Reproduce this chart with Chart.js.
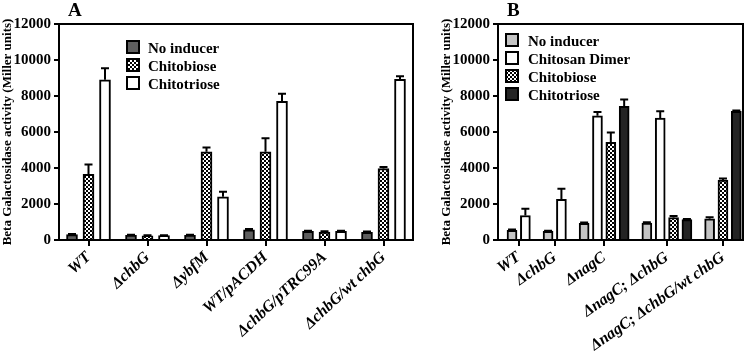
<!DOCTYPE html>
<html><head><meta charset="utf-8">
<script src="https://cdn.jsdelivr.net/npm/chart.js@4/dist/chart.umd.min.js"></script>
<style>
html,body{margin:0;padding:0;background:#fff;}
#wrap{position:relative;width:750px;height:357px;overflow:hidden;background:#fff;}
#ca{position:absolute;left:0;top:0;}
#cb{position:absolute;left:430px;top:0;}
</style></head><body>
<div id="wrap">
<canvas id="ca" width="430" height="357"></canvas>
<canvas id="cb" width="320" height="357"></canvas>
</div>
<script>
// ---------- Panel A data ----------
const strainsA = ['WT', 'ΔchbG', 'ΔybfM', 'WT/pACDH', 'ΔchbG/pTRC99A', 'ΔchbG/wt chbG'];
const seriesNamesA = ['No inducer', 'Chitobiose', 'Chitotriose'];
const noInducerA = [300, 260, 260, 560, 480, 420];
const noInducerErrA = [30, 30, 30, 50, 40, 50];
const chitobioseA = [3650, 230, 4900, 4900, 440, 3970];
const chitobioseErrA = [540, 40, 240, 750, 50, 90];
const chitotrioseA = [8900, 240, 2400, 7700, 480, 8920];
const chitotrioseErrA = [640, 30, 280, 420, 40, 180];

// ---------- Panel B data ----------
const strainsB = ['WT', 'ΔchbG', 'ΔnagC', 'ΔnagC; ΔchbG', 'ΔnagC; ΔchbG/wt chbG'];
const seriesNamesB = ['No inducer', 'Chitosan Dimer', 'Chitobiose', 'Chitotriose'];
const noInducerB = [540, 480, 920, 940, 1180];
const noInducerErrB = [40, 30, 50, 40, 90];
const chitosanDimerB = [1360, 2260, 6900, 6780, null];
const chitosanDimerErrB = [370, 590, 210, 370, null];
const chitobioseB = [null, null, 5430, 1250, 3330];
const chitobioseErrB = [null, null, 540, 90, 80];
const chitotrioseB = [null, null, 7430, 1130, 7150];
const chitotrioseErrB = [null, null, 370, 40, 40];

const yMin = 0, yMax = 12000, yStep = 2000;
const yTitle = 'Beta Galactosidase activity (Miller units)';

Chart.defaults.font.family = "'Liberation Serif', 'Times New Roman', serif";
Chart.defaults.color = '#000';

function checkerPattern() {
  const c = document.createElement('canvas');
  c.width = 4; c.height = 4;
  const g = c.getContext('2d');
  g.fillStyle = '#fff'; g.fillRect(0, 0, 4, 4);
  g.fillStyle = '#000'; g.fillRect(0, 0, 2, 2); g.fillRect(2, 2, 2, 2);
  return document.getElementById('ca').getContext('2d').createPattern(c, 'repeat');
}
const checker = checkerPattern();

// ---------- plugins ----------
const framePlugin = {
  id: 'frame',
  afterDraw(chart) {
    const {ctx, chartArea: a} = chart;
    ctx.save();
    ctx.strokeStyle = '#000'; ctx.lineWidth = 2;
    ctx.beginPath();
    ctx.moveTo(a.left, a.top); ctx.lineTo(a.right, a.top); ctx.lineTo(a.right, a.bottom);
    ctx.stroke();
    ctx.restore();
  }
};
const errorBarsPlugin = {
  id: 'errorBars',
  afterDatasetsDraw(chart, args, opts) {
    const {ctx} = chart; const ys = chart.scales.y;
    ctx.save();
    ctx.strokeStyle = '#000'; ctx.lineWidth = 2;
    chart.data.datasets.forEach((ds, di) => {
      const meta = chart.getDatasetMeta(di);
      meta.data.forEach((bar, i) => {
        const p = meta.controller.getParsed(i);
        const e = ds.errors[i];
        if (!p || p.y == null || e == null) return;
        const yTop = ys.getPixelForValue(p.y + e);
        ctx.beginPath();
        ctx.moveTo(bar.x, bar.y); ctx.lineTo(bar.x, yTop);
        ctx.moveTo(bar.x - opts.cap, yTop); ctx.lineTo(bar.x + opts.cap, yTop);
        ctx.stroke();
      });
    });
    ctx.restore();
  }
};
const legendPlugin = {
  id: 'boxLegend',
  afterDraw(chart, args, o) {
    const {ctx} = chart;
    ctx.save();
    ctx.font = "bold 15px 'Liberation Serif'";
    ctx.textBaseline = 'alphabetic';
    chart.data.datasets.forEach((ds, i) => {
      const y = o.y + i * o.row;
      ctx.fillStyle = ds.backgroundColor;
      ctx.fillRect(o.x, y, o.box, o.box);
      ctx.strokeStyle = '#000'; ctx.lineWidth = 2;
      ctx.strokeRect(o.x + 1, y + 1, o.box - 2, o.box - 2);
      ctx.fillStyle = '#000';
      ctx.fillText(ds.label, o.textX, y + 12.5);
    });
    ctx.restore();
  }
};
const panelLabelPlugin = {
  id: 'panelLabel',
  afterDraw(chart, args, o) {
    const {ctx} = chart;
    ctx.save();
    ctx.font = "bold 19px 'Liberation Serif'";
    ctx.fillStyle = '#000';
    ctx.textBaseline = 'alphabetic';
    ctx.fillText(o.text, o.x, o.y);
    ctx.restore();
  }
};

function yScale(width, titlePad) {
  return {
    min: yMin, max: yMax,
    ticks: {stepSize: yStep, font: {size: 15, weight: 'bold'}, color: '#000', padding: 3,
            callback: v => String(v)},
    grid: {drawOnChartArea: false, drawTicks: true, tickLength: 5, color: '#000', lineWidth: 2},
    border: {display: true, color: '#000', width: 2},
    title: {display: true, text: yTitle, color: '#000', font: {size: 13, weight: 'bold'}, padding: {top: titlePad, bottom: 0}},
    afterFit(s) { s.width = width; }
  };
}
const xGrid = {offset: false, drawOnChartArea: false, drawTicks: true, tickLength: 6, color: '#000', lineWidth: 2};
const xBorder = {display: true, color: '#000', width: 2};

// ---------- Chart A ----------
function dsA(label, data, errors, color) {
  return {label, data, errors, backgroundColor: color, borderColor: '#000', borderWidth: 2,
          barThickness: 16.5, maxBarThickness: 11};
}
new Chart(document.getElementById('ca'), {
  type: 'bar',
  data: {
    labels: strainsA,
    datasets: [
      dsA(seriesNamesA[0], noInducerA, noInducerErrA, '#5e5e5e'),
      dsA(seriesNamesA[1], chitobioseA, chitobioseErrA, checker),
      dsA(seriesNamesA[2], chitotrioseA, chitotrioseErrA, '#ffffff')
    ]
  },
  options: {
    responsive: false, animation: false,
    layout: {padding: {left: 0, right: 17, top: 24, bottom: 0}},
    plugins: {
      legend: {display: false}, tooltip: {enabled: false},
      errorBars: {cap: 4},
      boxLegend: {x: 126, y: 40, box: 14, row: 18, textX: 148},
      panelLabel: {text: 'A', x: 68, y: 16}
    },
    scales: {
      x: {
        type: 'category', offset: true, grid: xGrid, border: xBorder,
        ticks: {font: {size: 16, weight: 'bold', style: 'italic'}, color: '#000', minRotation: 43, maxRotation: 43, autoSkip: false, padding: 2},
        afterFit(s) { s.height = 117; }
      },
      y: yScale(59, 0)
    }
  },
  plugins: [framePlugin, errorBarsPlugin, legendPlugin, panelLabelPlugin]
});

// ---------- Chart B ----------
const seriesB = [noInducerB, chitosanDimerB, chitobioseB, chitotrioseB];
const groupCountsB = strainsB.map((_, i) => seriesB.filter(s => s[i] != null).length);
const leadPad = 0.55, groupGap = 0.7;
const posB = [];
let cursor = leadPad;
groupCountsB.forEach((n, i) => { posB.push(cursor + n / 2); cursor += n + groupGap; });
const xMaxB = cursor - groupGap;

function dsB(label, data, errors, color) {
  return {label, data: data.map((v, i) => ({x: posB[i], y: v})), errors, backgroundColor: color,
          borderColor: '#000', borderWidth: 2, barThickness: 13.35, maxBarThickness: 10, skipNull: true};
}
new Chart(document.getElementById('cb'), {
  type: 'bar',
  data: {
    datasets: [
      dsB(seriesNamesB[0], noInducerB, noInducerErrB, '#c4c4c4'),
      dsB(seriesNamesB[1], chitosanDimerB, chitosanDimerErrB, '#ffffff'),
      dsB(seriesNamesB[2], chitobioseB, chitobioseErrB, checker),
      dsB(seriesNamesB[3], chitotrioseB, chitotrioseErrB, '#242424')
    ]
  },
  options: {
    responsive: false, animation: false,
    layout: {padding: {left: 0, right: 7, top: 24, bottom: 0}},
    plugins: {
      legend: {display: false}, tooltip: {enabled: false},
      errorBars: {cap: 4},
      boxLegend: {x: 75, y: 33, box: 14, row: 18, textX: 98},
      panelLabel: {text: 'B', x: 77, y: 16}
    },
    scales: {
      x: {
        type: 'linear', min: 0, max: xMaxB, bounds: 'data', offset: false,
        grid: xGrid, border: xBorder,
        afterBuildTicks(s) { s.ticks = posB.map(v => ({value: v})); },
        ticks: {font: {size: 16, weight: 'bold', style: 'italic'}, color: '#000', minRotation: 35, maxRotation: 35, autoSkip: false, padding: 2,
                callback: (v, i) => strainsB[i]},
        afterFit(s) { s.height = 117; }
      },
      y: yScale(68, 9)
    }
  },
  plugins: [framePlugin, errorBarsPlugin, legendPlugin, panelLabelPlugin]
});
</script>
</body></html>
